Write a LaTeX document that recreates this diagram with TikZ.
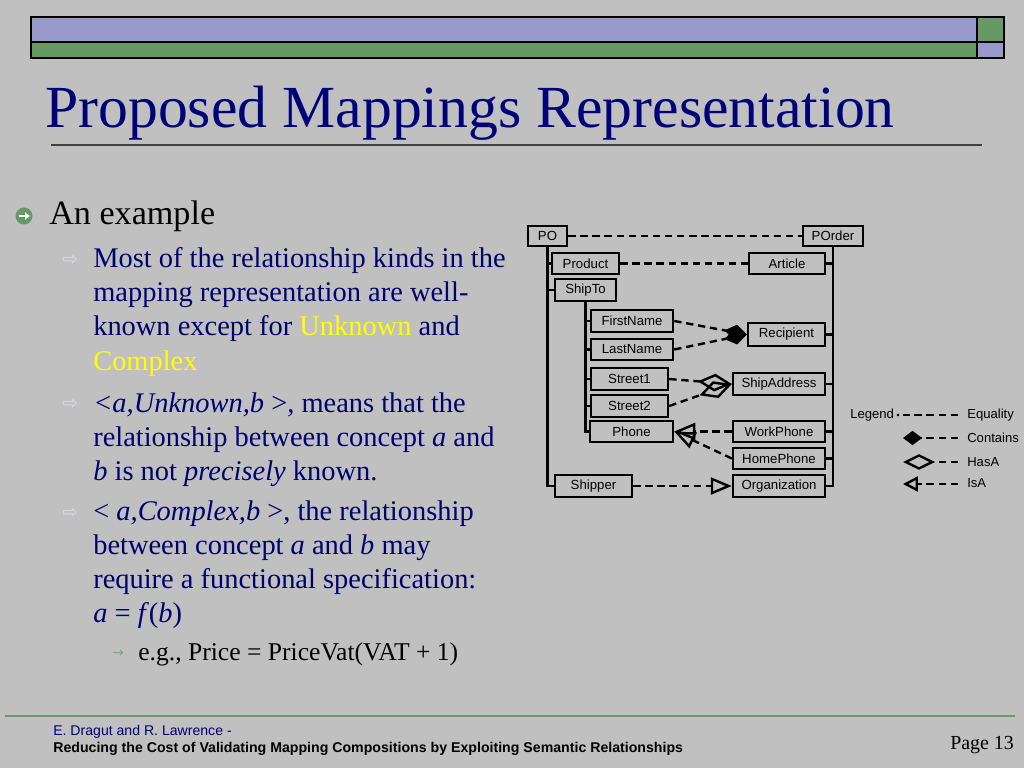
\documentclass[tikz,border=0pt]{standalone}
\usepackage{fontspec}
\setmainfont{Liberation Serif}
\setsansfont{Liberation Sans}
\newfontfamily\symfont{DejaVu Sans}
\usetikzlibrary{arrows.meta,calc}
\definecolor{bg}{RGB}{192,192,192}
\definecolor{barblue}{RGB}{153,153,204}
\definecolor{bargreen}{RGB}{102,153,102}
\definecolor{navy}{RGB}{0,0,110}
\definecolor{titlenavy}{RGB}{0,0,120}
\definecolor{rulegray}{RGB}{64,64,64}
\definecolor{footgreen}{RGB}{112,150,112}
\definecolor{hiyellow}{RGB}{255,255,0}
\definecolor{arrowwhite}{RGB}{218,218,230}
\definecolor{arrowgreen}{RGB}{125,165,125}
\begin{document}
\begin{tikzpicture}[x=0.703125pt,y=-0.703125pt,
  box/.style={draw=black,line width=1.7pt,inner sep=0pt,
    font=\sffamily\fontsize{9.3}{11}\selectfont,minimum height=21.5*0.703125pt},
  bw/.style={minimum width=#1*0.703125pt},
  tree/.style={line width=1.7pt},
  map/.style={line width=1.7pt,dash pattern=on 5.2pt off 3.3pt},
  containsTip/.style={-{Diamond[length=16pt,width=11pt]}},
  hasaTip/.style={-{Diamond[open,length=24pt,width=12.5pt]}},
  isaTip/.style={-{Triangle[open,length=14.8pt,width=12pt]}},
  leg/.style={anchor=west,inner sep=0pt,font=\sffamily\fontsize{9.2}{11}\selectfont},
  txt/.style={anchor=base west,inner sep=0pt},
  lvtwo/.style={txt,text=navy,font=\fontsize{20}{24}\selectfont},
  barrow/.style={anchor=center,inner sep=0pt,text=arrowwhite,font=\symfont\fontsize{13}{14}\selectfont}
]
\useasboundingbox (0,0) rectangle (1024,768);
\fill[bg] (0,0) rectangle (1024,768);

% top bars
\draw[fill=barblue,line width=1pt] (31,17) rectangle (977,42);
\draw[fill=bargreen,line width=1pt] (31,42) rectangle (977,58);
\draw[fill=bargreen,line width=1pt] (977,17) rectangle (1004,42);
\draw[fill=barblue,line width=1pt] (977,42) rectangle (1004,58);

% title
\node[txt,text=titlenavy,font=\fontsize{42}{50}\selectfont] (title) at (45,128) {Proposed Mappings Representation};
\draw[rulegray,line width=1.4pt] (51,145) -- (982,145);

% level 1
\fill[bargreen] (24,216) circle (8.5);
\draw[white,line width=1.8pt,-{Triangle[length=3.4pt,width=4.8pt]}] (18.5,216) -- (30,216);
\node[txt,font=\fontsize{24}{28}\selectfont] (l1) at (49,225) {An example};

% bullet 1
\node[barrow] (b1) at (70,260) {⇨};
\node[lvtwo] (t1a) at (93,268) {Most of the relationship kinds in the};
\node[lvtwo] (t1b) at (93,302) {mapping representation are well-};
\node[lvtwo] (t1c) at (93,336) {known except for \textcolor{hiyellow}{Unknown} and};
\node[lvtwo] (t1d) at (93,370) {\textcolor{hiyellow}{Complex}};
% bullet 2
\node[barrow] (b2) at (70,404) {⇨};
\node[lvtwo] (t2a) at (93,412) {\textit{<a,Unknown,b} >, means that the};
\node[lvtwo] (t2b) at (93,446) {relationship between concept \textit{a} and};
\node[lvtwo] (t2c) at (93,480) {\textit{b} is not \textit{precisely} known.};
% bullet 3
\node[barrow] (b3) at (70,513) {⇨};
\node[lvtwo] (t3a) at (93,520) {< \textit{a,Complex,b} >, the relationship};
\node[lvtwo] (t3b) at (93,554) {between concept \textit{a} and \textit{b} may};
\node[lvtwo] (t3c) at (93,588) {require a functional specification:};
\node[lvtwo] (t3d) at (93,622) {\textit{a} = \textit{f}(\textit{b})};
% level 3
\node[anchor=center,inner sep=0pt,text=arrowgreen,font=\symfont\fontsize{10}{11}\selectfont] (b4) at (118,654) {→};
\node[txt,font=\fontsize{18}{22}\selectfont] (t4) at (138,660) {e.g., Price = PriceVat(VAT + 1)};

% diagram boxes
\node[box,bw=39,minimum height=20*0.703125pt] (PO) at (547.5,236) {PO};
\node[box,bw=60,minimum height=20*0.703125pt] (POrder) at (833,236) {POrder};
\node[box,bw=67] (Product) at (585.5,263.5) {Product};
\node[box,bw=76] (Article) at (787,263.5) {Article};
\node[box,bw=61] (ShipTo) at (585.5,290) {ShipTo};
\node[box,bw=82] (FirstName) at (632,321) {FirstName};
\node[box,bw=82] (LastName) at (632,349.5) {LastName};
\node[box,bw=77,minimum height=23*0.703125pt] (Recipient) at (786.5,334.5) {Recipient};
\node[box,bw=77] (Street1) at (629.5,379) {Street1};
\node[box,bw=77] (Street2) at (629.5,406) {Street2};
\node[box,bw=83] (Phone) at (631.5,431.5) {Phone};
\node[box,bw=92] (ShipAddress) at (779,384) {ShipAddress};
\node[box,bw=92] (WorkPhone) at (779,431.5) {WorkPhone};
\node[box,bw=92] (HomePhone) at (779,458.5) {HomePhone};
\node[box,bw=92] (Organization) at (779,486) {Organization};
\node[box,bw=77] (Shipper) at (593.5,486) {Shipper};

% tree lines left
\draw[tree] (PO.south) |- (Shipper.west);
\draw[tree] (PO.south |- Product.west) -- (Product.west);
\draw[tree] (PO.south |- ShipTo.west) -- (ShipTo.west);
\draw[tree] (ShipTo.south) |- (Phone.west);
\draw[tree] (ShipTo.south |- FirstName.west) -- (FirstName.west);
\draw[tree] (ShipTo.south |- LastName.west) -- (LastName.west);
\draw[tree] (ShipTo.south |- Street1.west) -- (Street1.west);
\draw[tree] (ShipTo.south |- Street2.west) -- (Street2.west);
% tree lines right
\draw[tree] (POrder.south) |- (Organization.east);
\draw[tree] (POrder.south |- Article.east) -- (Article.east);
\draw[tree] (POrder.south |- Recipient.east) -- (Recipient.east);
\draw[tree] (POrder.south |- ShipAddress.east) -- (ShipAddress.east);
\draw[tree] (POrder.south |- WorkPhone.east) -- (WorkPhone.east);
\draw[tree] (POrder.south |- HomePhone.east) -- (HomePhone.east);

% mappings
\draw[map] (PO.east) -- (POrder.west);
\draw[map] (Product.east) -- (Article.west);
\draw[map,containsTip] (FirstName.east) -- (Recipient.west);
\draw[map,containsTip] (LastName.east) -- (Recipient.west);
\draw[map,hasaTip] (Street1.east) -- (ShipAddress.west);
\draw[map,hasaTip] (Street2.east) -- (ShipAddress.west);
\draw[map,isaTip] (WorkPhone.west) -- (Phone.east);
\draw[map,isaTip] (HomePhone.west) -- (Phone.east);
\draw[map,isaTip] (Shipper.east) -- (Organization.west);

% legend
\node[leg] (legT) at (850,415) {Legend};
\node[circle,fill=black,inner sep=0pt,minimum size=2.6*0.703125pt] (legdot) at (898,415) {};
\coordinate (e1s) at (958,415); \coordinate (e1e) at (903,415);
\draw[map] (e1s) -- (e1e);
\node[leg] (legEq) at (967,415) {Equality};
\coordinate (e2s) at (958,438); \coordinate (e2e) at (903,438);
\draw[map,-{Diamond[length=13.4pt,width=10pt]}] (e2s) -- (e2e);
\node[leg] (legCo) at (967,438) {Contains};
\coordinate (e3s) at (958,462); \coordinate (e3e) at (903,462);
\draw[map,-{Diamond[open,length=22.5pt,width=11pt]}] (e3s) -- (e3e);
\node[leg] (legHa) at (967,462) {HasA};
\coordinate (e4s) at (958,484); \coordinate (e4e) at (903,484);
\draw[map,-{Triangle[open,length=10.5pt,width=10.5pt]}] (e4s) -- (e4e);
\node[leg] (legIs) at (967,483) {IsA};

% footer
\draw[footgreen,line width=2pt] (5,716) -- (1015,716);
\node[txt,text=navy,font=\sffamily\fontsize{9.9}{11}\selectfont] (auth) at (53,735) {E. Dragut and R. Lawrence -};
\node[txt,font=\sffamily\bfseries\fontsize{9.95}{11}\selectfont] (paper) at (53,752) {Reducing the Cost of Validating Mapping Compositions by Exploiting Semantic Relationships};
\node[txt,font=\fontsize{14}{16}\selectfont] (page) at (950,749) {Page 13};
\end{tikzpicture}
\end{document}
